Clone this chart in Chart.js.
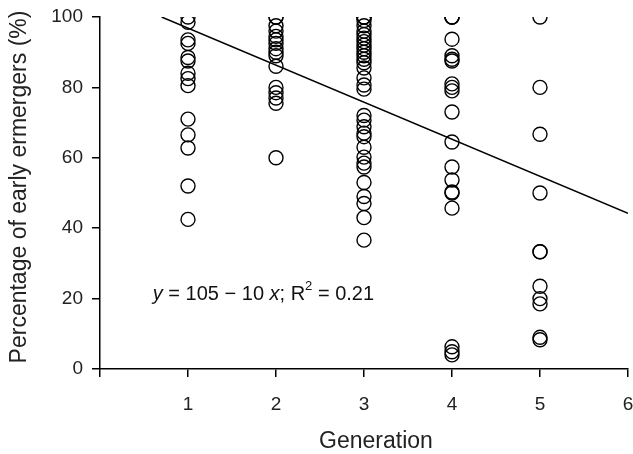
<!DOCTYPE html>
<html>
<head>
<meta charset="utf-8">
<script src="https://cdn.jsdelivr.net/npm/chart.js@4/dist/chart.umd.min.js"></script>
<style>
  html, body { margin: 0; padding: 0; background: #fff; overflow: hidden; }
  canvas { display: block; }
</style>
</head>
<body>
<canvas id="myChart" width="633" height="454"></canvas>
<script>
// percentages of early emergers, one list per generation
const gen1 = [100, 98.5, 93.5, 92.5, 88.5, 87.5, 84, 82.5, 80.5, 71, 66.5, 62.8, 52, 42.5];
const gen2 = [100, 100, 97.5, 96, 94.5, 93.5, 92.5, 91, 90, 89, 86, 80, 78.5, 77, 75.5, 60];
const gen3 = [100, 100, 100, 99, 97.5, 96, 95, 94, 93, 92, 91, 90, 89, 88, 87, 85.5,
  82.7, 80.7, 79.5, 72, 70.7, 68.8, 67, 66, 63, 60.2, 58.5, 57.4, 53, 49, 47, 43, 36.6];
const gen4 = [100, 100, 100, 93.7, 89, 88, 87.5, 81, 80, 79, 73, 64.5, 57.4, 53.7,
  50.3, 50, 45.7, 6.3, 4.9, 4];
const gen5 = [100, 80, 66.7, 50, 33.3, 33.3, 23.5, 20, 18.5, 9, 8.3];

const generations = [1, 2, 3, 4, 5];
const seriesByGen = [gen1, gen2, gen3, gen4, gen5];

// fitted line as drawn (start and end of the segment)
const fitX = [0.7, 6];
const fitY = [100, 44.2];

const xTicks = [0, 1, 2, 3, 4, 5, 6];
const yTicks = [0, 20, 40, 60, 80, 100];

const points = [];
generations.forEach((g, i) => {
  seriesByGen[i].forEach((v) => points.push({ x: g, y: v }));
});

const fitLine = fitX.map((x, i) => ({ x: x, y: fitY[i] }));

const font = "'Liberation Sans', Arial, sans-serif";
const ctx = document.getElementById("myChart");

// equation label and axis titles, drawn by hand
const extraText = {
  id: "extraText",
  afterDatasetsDraw(chart) {
    const c = chart.ctx;
    const px = chart.scales.x.getPixelForValue(0.6);
    const py = chart.scales.y.getPixelForValue(21.3);
    const size = 20;
    const parts = [
      { t: "y", style: "italic" },
      { t: " = 105 \u2212 10 ", style: "normal" },
      { t: "x", style: "italic" },
      { t: "; R", style: "normal" },
      { t: "2", style: "normal", sup: true },
      { t: " = 0.21", style: "normal" },
    ];
    c.save();
    c.fillStyle = "#111";
    c.textBaseline = "middle";
    c.textAlign = "left";
    let x = px;
    parts.forEach((p) => {
      const s = p.sup ? 13 : size;
      c.font = p.style + " " + s + "px " + font;
      c.fillText(p.t, x, p.sup ? py - 8 : py);
      x += c.measureText(p.t).width;
    });

    const area = chart.chartArea;
    c.font = "23px " + font;
    c.fillStyle = "#222";
    c.textAlign = "center";
    // x title, a little right of centre as in the figure
    c.fillText("Generation", (area.left + area.right) / 2 + 12, chart.scales.x.bottom - 12);
    // y title, a little above centre
    c.translate(20, (area.top + area.bottom) / 2 - 6);
    c.rotate(-Math.PI / 2);
    c.fillText("Percentage of early ermergers (%)", 0, 0);
    c.restore();
  },
};

new Chart(ctx, {
  type: "scatter",
  data: {
    datasets: [
      {
        label: "Early emergers",
        data: points,
        pointRadius: 7,
        pointBorderWidth: 1.4,
        pointBorderColor: "#000",
        pointBackgroundColor: "rgba(0,0,0,0)",
        pointHoverRadius: 7,
      },
      {
        type: "line",
        label: "Fit",
        data: fitLine,
        borderColor: "#000",
        borderWidth: 1.5,
        pointRadius: 0,
        fill: false,
      },
    ],
  },
  options: {
    responsive: false,
    animation: false,
    layout: { autoPadding: false, padding: { top: 17, right: 5, left: 0, bottom: 0 } },
    plugins: {
      legend: { display: false },
      tooltip: { enabled: false },
    },
    scales: {
      x: {
        type: "linear",
        min: 0,
        max: 6,
        afterBuildTicks: (scale) => {
          scale.ticks = xTicks.map((v) => ({ value: v }));
        },
        afterFit: (scale) => {
          scale.height = 85;
          scale.paddingLeft = 0;
          scale.paddingRight = 0;
        },
        ticks: {
          callback: (v) => (v === 0 ? "" : v),
          color: "#222",
          font: { family: font, size: 19 },
          padding: 16,
          maxRotation: 0,
        },
        grid: {
          display: true,
          drawOnChartArea: false,
          drawTicks: true,
          tickLength: 8,
          color: "#000",
          lineWidth: 1.5,
        },
        border: { display: true, color: "#000", width: 1.5 },
      },
      y: {
        min: 0,
        max: 100,
        afterBuildTicks: (scale) => {
          scale.ticks = yTicks.map((v) => ({ value: v }));
        },
        afterFit: (scale) => {
          scale.width = 100;
          scale.paddingTop = 0;
          scale.paddingBottom = 0;
        },
        ticks: {
          color: "#222",
          font: { family: font, size: 19 },
          padding: 9,
        },
        grid: {
          display: true,
          drawOnChartArea: false,
          drawTicks: true,
          tickLength: 8,
          color: "#000",
          lineWidth: 1.5,
        },
        border: { display: true, color: "#000", width: 1.5 },
      },
    },
  },
  plugins: [extraText],
});
</script>
</body>
</html>
